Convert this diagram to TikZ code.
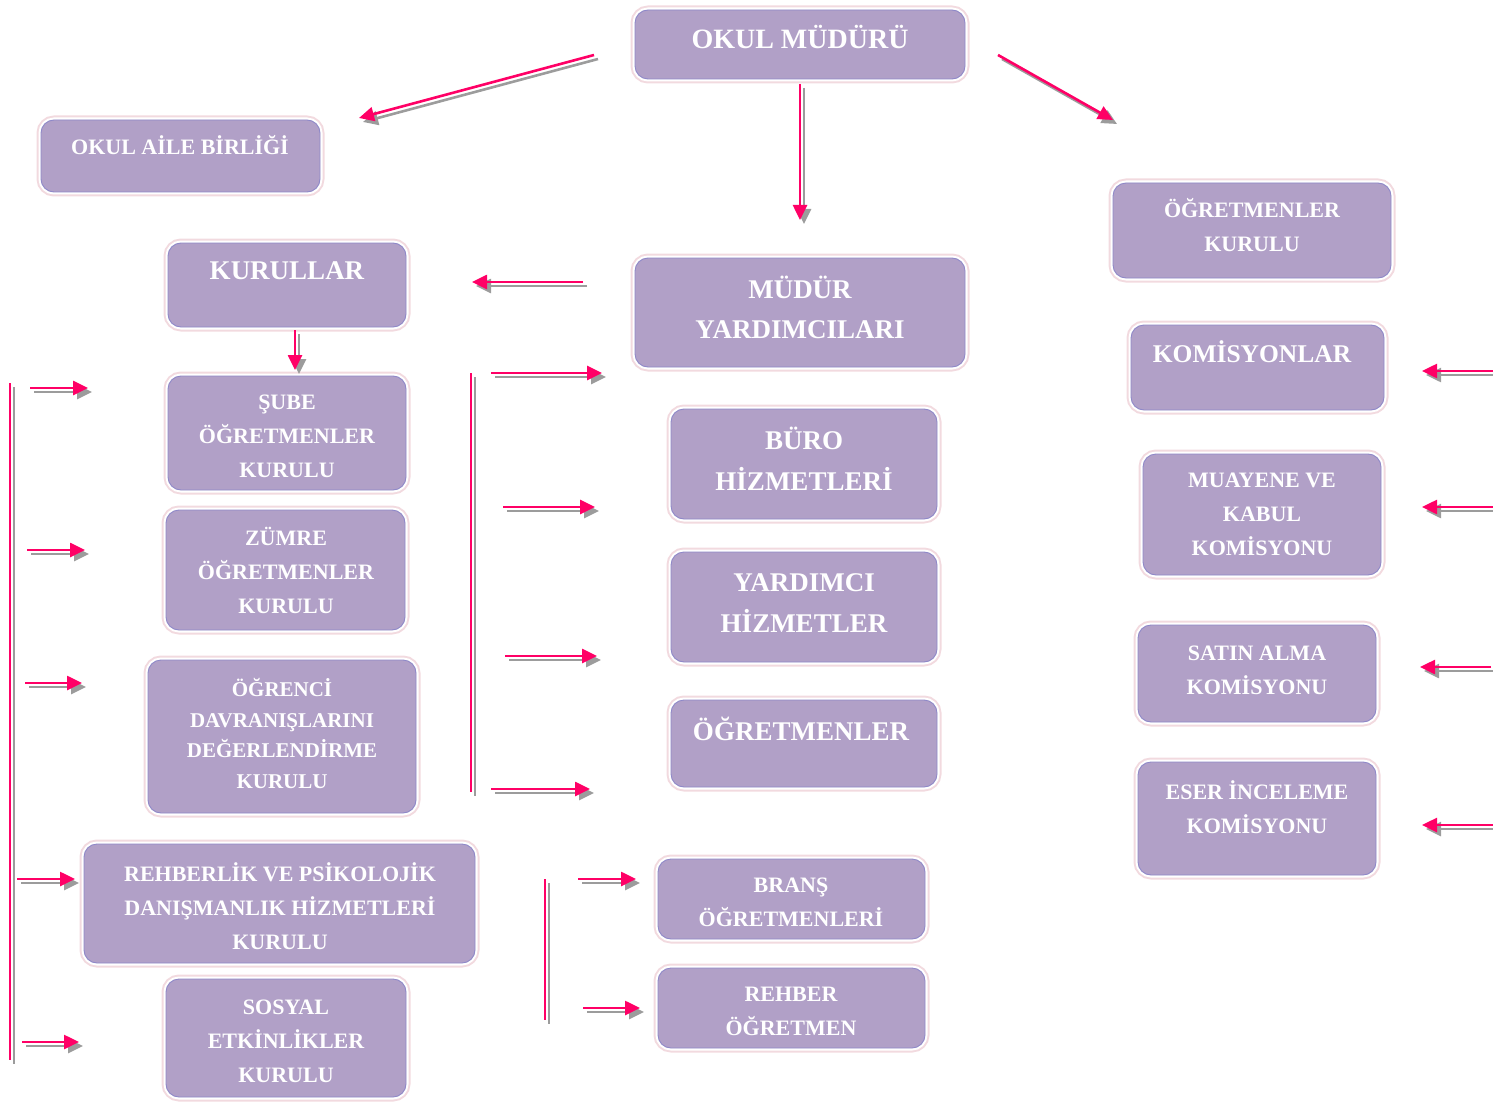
\documentclass[tikz,border=0pt]{standalone}
\usepackage{fontspec}
\setmainfont{Liberation Serif}
\usetikzlibrary{arrows.meta}
\definecolor{lav}{HTML}{B1A0C7}
\definecolor{pinkb}{HTML}{F2DADF}
\definecolor{blueb}{HTML}{8E88C8}
\definecolor{pk}{HTML}{FF0066}
\definecolor{shg}{HTML}{9C9C9C}
\tikzset{
  box/.style={rounded corners=13pt, fill=lav, draw=blueb, line width=0.9pt,
    preaction={draw=pinkb, line width=9pt},
    preaction={draw=white, line width=5pt},
    inner sep=0pt},
  bigt/.style={text=white, align=center, font=\bfseries\fontsize{27}{40.5}\selectfont, inner sep=0pt},
  smt/.style={text=white, align=center, font=\bfseries\fontsize{22}{34}\selectfont, inner sep=0pt},
  pkline/.style={draw=pk, line width=2.6pt},
  shline/.style={draw=shg, line width=2.6pt},
  tipd/.style={-{Triangle[length=15pt,width=14pt]}},
}
\newcommand\sarr[3][]{%
  \draw[shline,#1] ([shift={(4,4)}]#2) -- ([shift={(4,4)}]#3);
  \draw[pkline,#1] (#2) -- (#3);}
\begin{document}
\begin{tikzpicture}[x=1pt,y=-1pt]
\useasboundingbox (0,0) rectangle (1493,1102);
% boxes
\node[box, minimum width=330pt, minimum height=69pt] (mudur) at (800,44.5) {};
\node[bigt, font=\bfseries\fontsize{28}{40}\selectfont] (tmudur) at (800,37) {OKUL MÜDÜRÜ};
\node[box, minimum width=279pt, minimum height=72pt] (aile) at (180.5,156) {};
\node[smt] (taile) at (180,145) {OKUL AİLE BİRLİĞİ};
\node[box, minimum width=278pt, minimum height=95pt] (ogk) at (1252,230.5) {};
\node[smt] (togk) at (1252,225) {ÖĞRETMENLER\\KURULU};
\node[box, minimum width=238pt, minimum height=84pt] (kurullar) at (287,285) {};
\node[bigt] (tkurullar) at (287,271) {KURULLAR};
\node[box, minimum width=330pt, minimum height=109pt] (yard) at (800,312.5) {};
\node[bigt] (tyard) at (800,307.5) {MÜDÜR\\YARDIMCILARI};
\node[box, minimum width=253pt, minimum height=85pt] (kom) at (1257.5,367.5) {};
\node[bigt, font=\bfseries\fontsize{25.5}{38}\selectfont] (tkom) at (1252,352) {KOMİSYONLAR};
\node[box, minimum width=238pt, minimum height=114pt] (sube) at (287,433) {};
\node[smt] (tsube) at (287,436.5) {ŞUBE\\ÖĞRETMENLER\\KURULU};
\node[box, minimum width=266pt, minimum height=110pt] (buro) at (804,464) {};
\node[bigt] (tburo) at (804,459) {BÜRO\\HİZMETLERİ};
\node[box, minimum width=238pt, minimum height=121pt] (muay) at (1262,514.5) {};
\node[smt] (tmuay) at (1262,514.5) {MUAYENE VE\\KABUL\\KOMİSYONU};
\node[box, minimum width=239pt, minimum height=120pt] (zumre) at (285.5,570) {};
\node[smt] (tzumre) at (286,570) {ZÜMRE\\ÖĞRETMENLER\\KURULU};
\node[box, minimum width=266pt, minimum height=110pt] (yhiz) at (804,607) {};
\node[bigt] (tyhiz) at (804,603) {YARDIMCI\\HİZMETLER};
\node[box, minimum width=238pt, minimum height=97pt] (satin) at (1257,673.5) {};
\node[smt] (tsatin) at (1257,670) {SATIN ALMA\\KOMİSYONU};
\node[box, minimum width=268pt, minimum height=153pt] (ogrenci) at (282,736.5) {};
\node[smt, font=\bfseries\fontsize{21}{30.5}\selectfont] (togrenci) at (282,733.5) {ÖĞRENCİ\\DAVRANIŞLARINI\\DEĞERLENDİRME\\KURULU};
\node[box, minimum width=266pt, minimum height=87pt] (ogr) at (804,743.5) {};
\node[bigt] (togr) at (801,729) {ÖĞRETMENLER};
\node[box, minimum width=238pt, minimum height=113pt] (eser) at (1257,818.5) {};
\node[smt] (teser) at (1257,807) {ESER İNCELEME\\KOMİSYONU};
\node[box, minimum width=391pt, minimum height=119pt] (rehb) at (279.5,903.5) {};
\node[smt] (trehb) at (280,906) {REHBERLİK VE PSİKOLOJİK\\DANIŞMANLIK HİZMETLERİ\\KURULU};
\node[box, minimum width=267pt, minimum height=80pt] (brans) at (791.5,899) {};
\node[smt] (tbrans) at (791,902.5) {BRANŞ\\ÖĞRETMENLERİ};
\node[box, minimum width=240pt, minimum height=118pt] (sosyal) at (286,1038) {};
\node[smt] (tsosyal) at (286,1041) {SOSYAL\\ETKİNLİKLER\\KURULU};
\node[box, minimum width=267pt, minimum height=80pt] (rogr) at (791.5,1008) {};
\node[smt] (trogr) at (791,1011.5) {REHBER\\ÖĞRETMEN};
% connector end points
\coordinate (a1s) at (594,55);   \coordinate (a1e) at (359,118);
\coordinate (a2s) at (800,84);   \coordinate (a2e) at (800,220);
\coordinate (a3s) at (998,55);   \coordinate (a3e) at (1113,120);
\coordinate (a4s) at (583,282);  \coordinate (a4e) at (472,282);
\coordinate (a5s) at (295,330);  \coordinate (a5e) at (295,370);
\coordinate (lvs) at (10,383);   \coordinate (lve) at (10,1060);
\coordinate (l1s) at (30,388);   \coordinate (l1e) at (88,388);
\coordinate (l2s) at (27,550);   \coordinate (l2e) at (85,550);
\coordinate (l3s) at (25,683);   \coordinate (l3e) at (82,683);
\coordinate (l4s) at (17,879);   \coordinate (l4e) at (75,879);
\coordinate (l5s) at (22,1042);  \coordinate (l5e) at (79,1042);
\coordinate (mvs) at (471,373);  \coordinate (mve) at (471,792);
\coordinate (m1s) at (491,373);  \coordinate (m1e) at (602,373);
\coordinate (m2s) at (503,507);  \coordinate (m2e) at (595,507);
\coordinate (m3s) at (505,656);  \coordinate (m3e) at (597,656);
\coordinate (m4s) at (491,789);  \coordinate (m4e) at (590,789);
\coordinate (bvs) at (545,879);  \coordinate (bve) at (545,1020);
\coordinate (b1s) at (578,879);  \coordinate (b1e) at (636,879);
\coordinate (b2s) at (583,1008); \coordinate (b2e) at (640,1008);
\coordinate (r1s) at (1493,371); \coordinate (r1e) at (1422,371);
\coordinate (r2s) at (1493,507); \coordinate (r2e) at (1422,507);
\coordinate (r3s) at (1491,667); \coordinate (r3e) at (1420,667);
\coordinate (r4s) at (1493,825); \coordinate (r4e) at (1422,825);
% connectors
\sarr[tipd]{a1s}{a1e}
\sarr[tipd]{a2s}{a2e}
\sarr[tipd]{a3s}{a3e}
\sarr[tipd]{a4s}{a4e}
\sarr[tipd]{a5s}{a5e}
\sarr{lvs}{lve}
\sarr[tipd]{l1s}{l1e}
\sarr[tipd]{l2s}{l2e}
\sarr[tipd]{l3s}{l3e}
\sarr[tipd]{l4s}{l4e}
\sarr[tipd]{l5s}{l5e}
\sarr{mvs}{mve}
\sarr[tipd]{m1s}{m1e}
\sarr[tipd]{m2s}{m2e}
\sarr[tipd]{m3s}{m3e}
\sarr[tipd]{m4s}{m4e}
\sarr{bvs}{bve}
\sarr[tipd]{b1s}{b1e}
\sarr[tipd]{b2s}{b2e}
\sarr[tipd]{r1s}{r1e}
\sarr[tipd]{r2s}{r2e}
\sarr[tipd]{r3s}{r3e}
\sarr[tipd]{r4s}{r4e}
\end{tikzpicture}
\end{document}
